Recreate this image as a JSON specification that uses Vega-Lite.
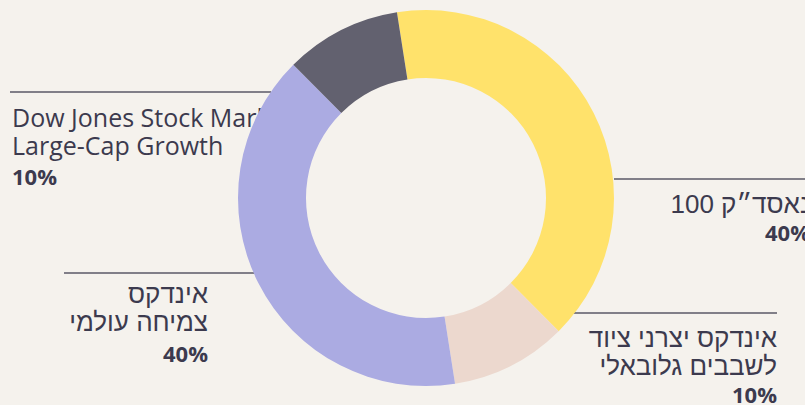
{
  "$schema": "https://vega.github.io/schema/vega-lite/v6.json",
  "autosize": {"type": "none"},
  "width": 758,
  "height": 396,
  "padding": {"left": 47, "top": 0, "right": 0, "bottom": 9},
  "background": "#F5F2ED",
  "config": {"view": {"stroke": null}},
  "datasets": {
    "slices": [
      {"idx": 1, "name": "נאסד״ק 100", "value": 40},
      {"idx": 2, "name": "אינדקס יצרני ציוד לשבבים גלובאלי", "value": 10},
      {"idx": 3, "name": "אינדקס צמיחה עולמי", "value": 40},
      {"idx": 4, "name": "Dow Jones Stock Market Large-Cap Growth", "value": 10}
    ],
    "labels": [
      {"side": "left", "text": "Dow Jones Stock Market\nLarge-Cap Growth", "pct": "10%", "tx": -414, "ty": 71, "py": 13, "lx1": -416, "lx2": -155, "ly": 106},
      {"side": "right", "text": "100 נאסד״ק", "pct": "40%", "tx": 384, "ty": -15, "py": -43, "lx1": 188, "lx2": 390, "ly": 19},
      {"side": "right", "text": "אינדקס יצרני ציוד\nלשבבים גלובאלי", "pct": "10%", "tx": 351, "ty": -149, "py": -205, "lx1": 147, "lx2": 351, "ly": -115},
      {"side": "right", "text": "אינדקס\nצמיחה עולמי", "pct": "40%", "tx": -218, "ty": -105, "py": -164, "lx1": -362, "lx2": -170, "ly": -75}
    ]
  },
  "layer": [
    {
      "data": {"name": "labels"},
      "mark": {"type": "rule", "color": "#5A5866", "strokeWidth": 1.3},
      "encoding": {
        "x": {"field": "lx1", "type": "quantitative", "scale": {"domain": [-379, 379], "nice": false, "zero": false}, "axis": null},
        "x2": {"field": "lx2"},
        "y": {"field": "ly", "type": "quantitative", "scale": {"domain": [-198, 198], "nice": false, "zero": false}, "axis": null}
      }
    },
    {
      "data": {"name": "labels"},
      "transform": [{"filter": "datum.side === 'left'"}],
      "mark": {"type": "text", "align": "left", "baseline": "alphabetic", "lineBreak": "\n", "lineHeight": 28, "font": "Open Sans", "fontSize": 25, "color": "#3C3A4E"},
      "encoding": {
        "x": {"field": "tx", "type": "quantitative"},
        "y": {"field": "ty", "type": "quantitative"},
        "text": {"field": "text"}
      }
    },
    {
      "data": {"name": "labels"},
      "transform": [{"filter": "datum.side === 'right'"}],
      "mark": {"type": "text", "align": "right", "baseline": "alphabetic", "lineBreak": "\n", "lineHeight": 28, "font": "Liberation Sans", "fontSize": 26, "color": "#3C3A4E"},
      "encoding": {
        "x": {"field": "tx", "type": "quantitative"},
        "y": {"field": "ty", "type": "quantitative"},
        "text": {"field": "text"}
      }
    },
    {
      "data": {"name": "labels"},
      "transform": [{"filter": "datum.side === 'left'"}],
      "mark": {"type": "text", "align": "left", "baseline": "alphabetic", "font": "Open Sans", "fontWeight": "bold", "fontSize": 22, "color": "#3C3A4E"},
      "encoding": {
        "x": {"field": "tx", "type": "quantitative"},
        "y": {"field": "py", "type": "quantitative"},
        "text": {"field": "pct"}
      }
    },
    {
      "data": {"name": "labels"},
      "transform": [{"filter": "datum.side === 'right'"}],
      "mark": {"type": "text", "align": "right", "baseline": "alphabetic", "font": "Open Sans", "fontWeight": "bold", "fontSize": 22, "color": "#3C3A4E"},
      "encoding": {
        "x": {"field": "tx", "type": "quantitative"},
        "y": {"field": "py", "type": "quantitative"},
        "text": {"field": "pct"}
      }
    },
    {
      "data": {"name": "slices"},
      "mark": {"type": "arc", "outerRadius": 188, "innerRadius": 120},
      "encoding": {
        "theta": {"field": "value", "type": "quantitative", "stack": true, "scale": {"range": [-0.155, 6.128]}},
        "order": {"field": "idx", "type": "quantitative"},
        "color": {
          "field": "name",
          "type": "nominal",
          "legend": null,
          "scale": {
            "domain": ["נאסד״ק 100", "אינדקס יצרני ציוד לשבבים גלובאלי", "אינדקס צמיחה עולמי", "Dow Jones Stock Market Large-Cap Growth"],
            "range": ["#FFE26B", "#ECD8CE", "#ABABE2", "#62616F"]
          }
        }
      }
    }
  ]
}
